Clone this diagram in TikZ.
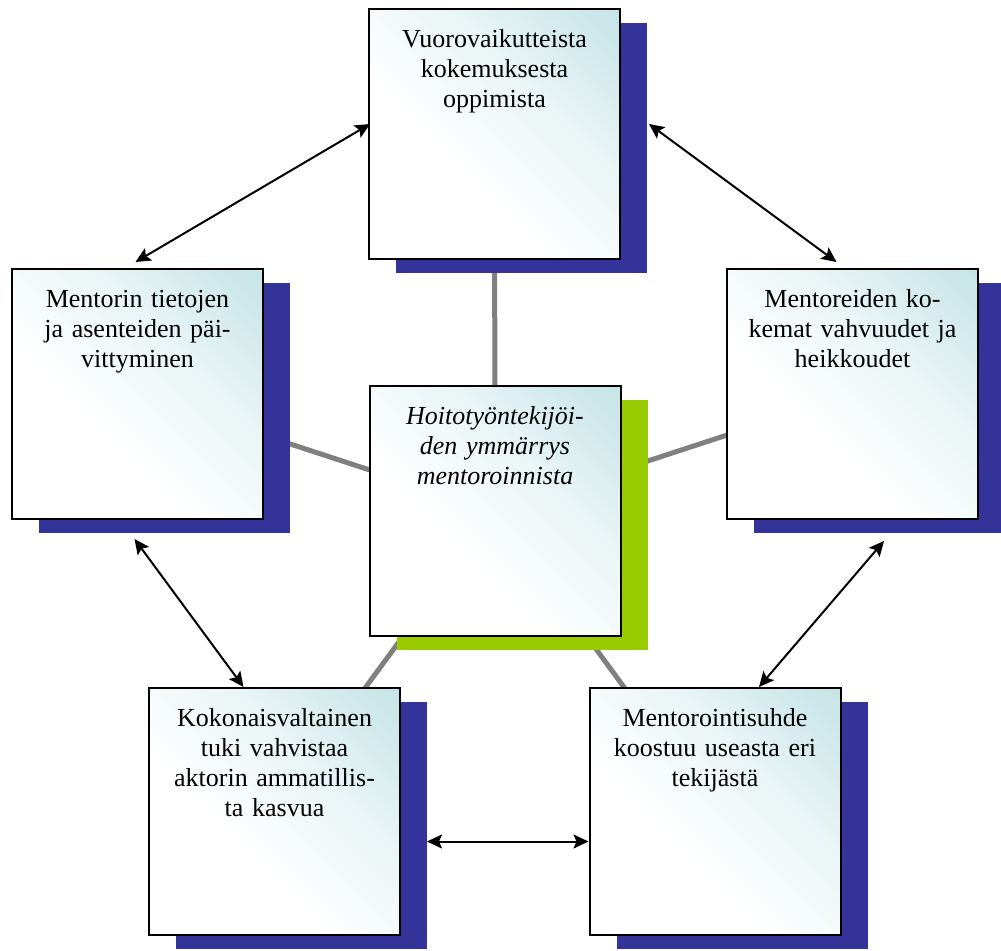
\documentclass[tikz,border=0pt]{standalone}
\usepackage{fontspec}
\setmainfont{Liberation Serif}
\usetikzlibrary{positioning,shadows,backgrounds,arrows.meta}
\definecolor{shadowblue}{RGB}{51,51,153}
\definecolor{shadowgreen}{RGB}{153,204,0}
\definecolor{boxteal}{RGB}{182,221,225}
\pgfdeclareverticalshading{cardfade}{100bp}{color(0bp)=(white); color(40bp)=(white);
  color(62bp)=(boxteal!30); color(80bp)=(boxteal!70); color(100bp)=(boxteal)}

\begin{document}
\begin{tikzpicture}[x=0.5pt, y=-0.5pt,
  card/.style={draw, line width=1pt, rectangle,
    shading=cardfade, shading angle=-45,
    minimum width=125.5pt, text width=112pt, align=center,
    inner xsep=6.75pt, inner ysep=10.25pt, text height=9pt, text depth=95.5pt,
    font=\fontsize{13}{15}\selectfont,
    drop shadow={shadow xshift=13.5pt, shadow yshift=-7pt, fill=shadowblue, opacity=1}},
  hub/.style={card, font=\fontsize{13}{15}\selectfont\itshape,
    drop shadow={shadow xshift=13.5pt, shadow yshift=-7pt, fill=shadowgreen, opacity=1}},
  spoke/.style={draw=gray, line width=2.5pt},
  link/.style={<->, line width=1pt},
  >={Stealth[length=7.5pt,width=7pt,inset=1.5pt]}]
  \useasboundingbox (0,0) rectangle (1001,951);

  \node[card] (vuoro) at (494.5,134) {Vuorovaikutteista\\kokemuksesta\\oppimista};
  \node[card] (tiedot) at (137.5,394) {Mentorin tietojen\\ja asenteiden päi-\\vittyminen};
  \node[card] (vahvuudet) at (852.5,394) {Mentoreiden ko-\\kemat vahvuudet ja\\heikkoudet};
  \node[hub] (ymmarrys) at (495,511) {Hoitotyöntekijöi-\\den ymmärrys\\mentoroinnista};
  \node[card, text depth=94pt] (tuki) at (274.5,811.5) {Kokonaisvaltainen\\tuki vahvistaa\\aktorin ammatillis-\\ta kasvua};
  \node[card, text depth=94pt] (suhde) at (715,811.5) {Mentorointisuhde\\koostuu useasta eri\\tekijästä};

  % gray spokes behind everything
  \begin{scope}[on background layer]
    \draw[spoke] (ymmarrys.center) -- (vuoro.center);
    \draw[spoke] (ymmarrys.center) -- (tiedot.center);
    \draw[spoke] (ymmarrys.center) -- (vahvuudet.center);
    \draw[spoke] (ymmarrys.center) -- (tuki.center);
    \draw[spoke] (ymmarrys.center) -- (suhde.center);
  \end{scope}

  \draw[link] ([shift={(-2,-6)}]tiedot.north) -- ([shift={(2,-10)}]vuoro.west);
  \draw[link] ([shift={(28,-10)}]vuoro.east) -- ([shift={(-16,-6)}]vahvuudet.north);
  \draw[link] ([shift={(-3,19)}]tiedot.south) -- ([shift={(-31,0)}]tuki.north);
  \draw[link] ([shift={(31.5,21)}]vahvuudet.south) -- ([shift={(44,0)}]suhde.north);
  \draw[link] ([shift={(26,30)}]tuki.east) -- ([shift={(0,30)}]suhde.west);
\end{tikzpicture}
\end{document}
